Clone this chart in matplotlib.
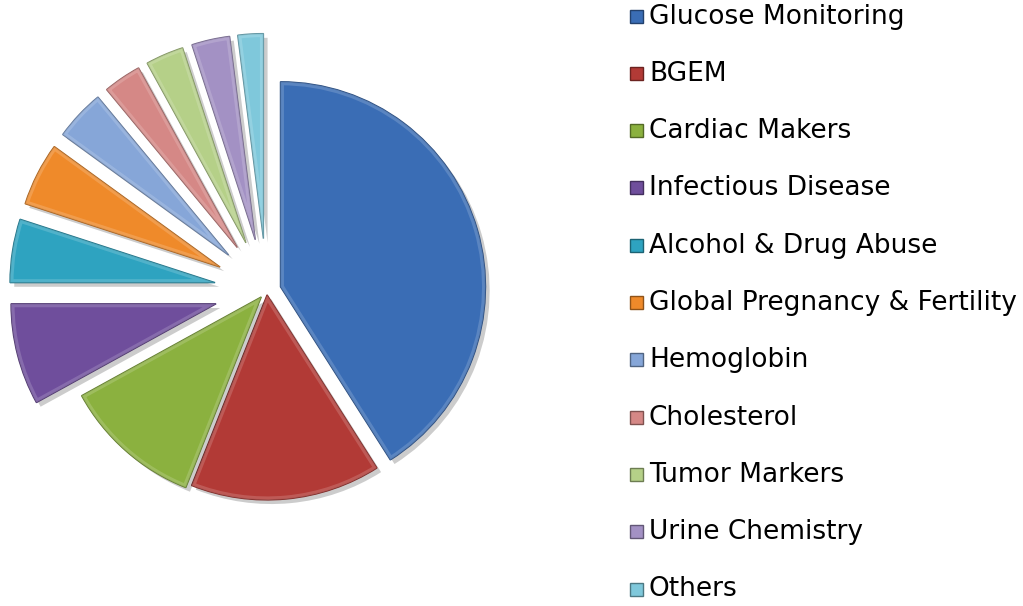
import matplotlib
matplotlib.use('Agg')
import matplotlib.pyplot as plt
import matplotlib.patheffects as pe
from matplotlib.patches import Wedge, Rectangle
from matplotlib.colors import to_rgb

labels = ['Glucose Monitoring', 'BGEM', 'Cardiac Makers', 'Infectious Disease',
          'Alcohol & Drug Abuse', 'Global Pregnancy & Fertility', 'Hemoglobin',
          'Cholesterol', 'Tumor Markers', 'Urine Chemistry', 'Others']
shares = [41, 15, 11, 8, 5, 5, 4, 3, 3, 3, 2]
colors = ['#3A6DB5', '#B23A36', '#8BB13F', '#6F4E9C', '#2EA3C0', '#EF8A2A',
          '#86A6D8', '#D58886', '#B5D088', '#A391C4', '#7FC8DB']
explode = [0.07, 0.02, 0.04, 0.255, 0.255, 0.255, 0.255, 0.255, 0.255, 0.255, 0.255]

W, H = 1023, 606
fig = plt.figure(figsize=(W / 100, H / 100), dpi=100)

# pie centre / radius in pixels (top-down), 1 data unit = radius
cx, cy, rad, half = 266.7, 290.8, 205.0, 260.0
ax = fig.add_axes([(cx - half) / W, (H - cy - half) / H, 2 * half / W, 2 * half / H])
lim = half / rad
ax.axis('off')


def shade(c, f):
    r, g, b = to_rgb(c)
    if f < 1:
        return (r * f, g * f, b * f)
    return (r + (1 - r) * (f - 1), g + (1 - g) * (f - 1), b + (1 - b) * (f - 1))


wedges, _ = ax.pie(shares, colors=colors, explode=explode, startangle=90,
                   counterclock=False, radius=1, frame=False)
ax.set_xlim(-lim, lim)
ax.set_ylim(-lim, lim)
ax.set_aspect('auto')

for w, c in zip(wedges, colors):
    w.set_edgecolor(shade(c, 0.7))
    w.set_linewidth(1.0)
    w.set_path_effects([pe.SimplePatchShadow(offset=(3, -3), shadow_rgbFace='k', alpha=0.2),
                        pe.Normal()])
    # bevel highlight just inside the edge
    hl = Wedge(w.center, w.r, w.theta1, w.theta2, fill=False,
               edgecolor=shade(c, 1.3), linewidth=5, alpha=0.55)
    ax.add_patch(hl)
    hl.set_clip_path(w)

# legend
y0, dy = 15.5, 57.3
for i, (lab, c) in enumerate(zip(labels, colors)):
    yc = y0 + i * dy
    fig.patches.append(Rectangle((630 / W, (H - yc - 7) / H), 13 / W, 13 / H,
                                 transform=fig.transFigure, facecolor=c,
                                 edgecolor=shade(c, 0.6), linewidth=1))
    fig.text(649 / W, (H - yc - 8) / H, lab, fontsize=19, va='baseline', ha='left',
             color='black', family='DejaVu Sans')

fig.savefig('out.png', dpi=100)
